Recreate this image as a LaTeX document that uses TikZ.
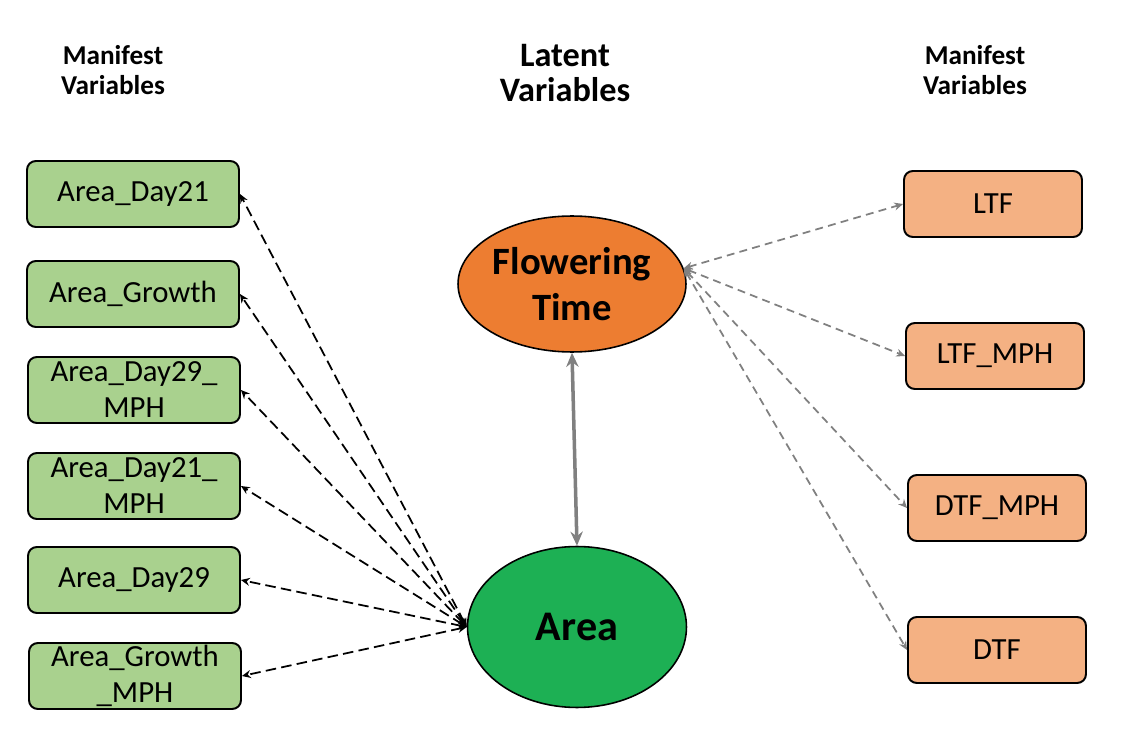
\documentclass[tikz,border=0pt]{standalone}
\usepackage{fontspec}
\setmainfont{Carlito}
\usepackage{tikz}
\usetikzlibrary{arrows.meta,shapes.geometric}
\definecolor{boxgreen}{RGB}{169,209,142}
\definecolor{boxorange}{RGB}{244,177,131}
\definecolor{latorange}{RGB}{237,125,49}
\definecolor{latgreen}{RGB}{29,176,84}
\definecolor{linegray}{RGB}{128,128,128}
\tikzset{
  mvleft/.style={draw, line width=1.1pt, rounded corners=5pt, fill=boxgreen,
    minimum width=4.24cm, minimum height=1.32cm, align=center,
    font=\fontsize{17.5}{20.5}\selectfont, inner sep=1pt},
  mvright/.style={draw, line width=1.1pt, rounded corners=5pt, fill=boxorange,
    minimum width=3.56cm, minimum height=1.32cm, align=center,
    font=\fontsize{17.5}{20.5}\selectfont},
  latent/.style={draw, ellipse, line width=0.9pt, inner sep=0pt, align=center},
  heading/.style={align=center, font=\bfseries},
  areaarrow/.style={{Stealth[length=5pt,width=4.5pt]}-{Stealth[length=5pt,width=4.5pt]},
    line width=1pt, dash pattern=on 6pt off 3pt},
  ftarrow/.style={{Stealth[length=5pt,width=4.5pt]}-{Stealth[length=5pt,width=4.5pt]},
    linegray, line width=1pt, dash pattern=on 4.5pt off 3pt}
}
\begin{document}
\begin{tikzpicture}[x=0.02cm,y=-0.02cm]
\useasboundingbox (0,0) rectangle (1134,750);
% headings
\node[heading, font=\fontsize{15.5}{17.5}\selectfont\bfseries] (hleft) at (113,70) {Manifest\\Variables};
\node[heading, font=\fontsize{19.5}{20}\selectfont\bfseries] (hmid) at (565,73) {Latent\\Variables};
\node[heading, font=\fontsize{15.5}{17.5}\selectfont\bfseries] (hright) at (975,70) {Manifest\\Variables};
% latent variables
\node[latent, fill=latorange, minimum width=4.56cm, minimum height=2.72cm,
  font=\fontsize{22}{26.5}\selectfont\bfseries] (ft) at (572,284) {Flowering\\Time};
\node[latent, fill=latgreen, minimum width=4.38cm, minimum height=3.22cm,
  font=\fontsize{24}{28}\selectfont\bfseries] (area) at (577,627) {Area};
% manifest variables, left
\node[mvleft] (d21) at (133,194) {Area\_Day21};
\node[mvleft] (gr) at (133,294) {Area\_Growth};
\node[mvleft] (d29m) at (134,390) {Area\_Day29\_\\MPH};
\node[mvleft] (d21m) at (134,486) {Area\_Day21\_\\MPH};
\node[mvleft] (d29) at (134,580) {Area\_Day29};
\node[mvleft] (grm) at (135,676) {Area\_Growth\\\_MPH};
% manifest variables, right
\node[mvright] (ltf) at (993,204) {LTF};
\node[mvright] (ltfm) at (995,356) {LTF\_MPH};
\node[mvright] (dtfm) at (997,508) {DTF\_MPH};
\node[mvright] (dtf) at (997,650) {DTF};
% connectors
\coordinate (ain) at (area.west);
\coordinate (fout) at (ft.8);
\foreach \n in {d21,gr,d29m,d21m,d29,grm}
  \draw[areaarrow] (ain) -- (\n.east);
\foreach \n in {ltf,ltfm,dtfm,dtf}
  \draw[ftarrow] (fout) -- (\n.west);
\draw[{Stealth[length=8pt,width=7pt]}-{Stealth[length=8pt,width=7pt]}, linegray, line width=2pt] (ft.south) -- (area.north);
\end{tikzpicture}
\end{document}
